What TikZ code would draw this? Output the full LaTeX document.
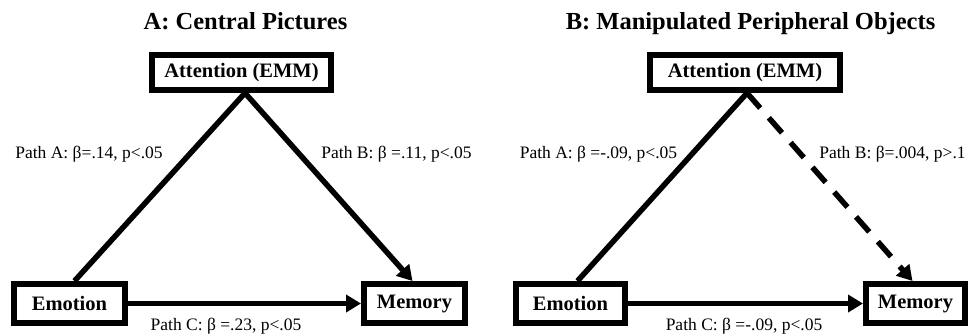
\documentclass[tikz,border=0pt]{standalone}
\usepackage{fontspec}
\setmainfont{Liberation Serif}
\usetikzlibrary{arrows.meta}
\begin{document}
\begin{tikzpicture}[x=1pt,y=-1pt,
  varbox/.style={draw=black,line width=6pt,fill=white,inner sep=0pt,font=\bfseries\fontsize{20.5}{22}\selectfont,anchor=center},
  conn/.style={line width=5.5pt,black},
  arr/.style={conn,-{Triangle[length=15pt,width=17pt]}},
  lab/.style={font=\fontsize{17.5}{19}\selectfont,inner sep=0pt,anchor=base},
  ttl/.style={font=\bfseries\fontsize{24.5}{26}\selectfont,inner sep=0pt,anchor=base}]
\useasboundingbox (0,0) rectangle (969,335);
% Panel A
\node[ttl] (ta) at (245.5,29) {A: Central Pictures};
\node[varbox,minimum width=179pt,minimum height=35pt] (attA) at (241.5,72.5) {Attention (EMM)};
\node[varbox,minimum width=111pt,minimum height=39pt] (emoA) at (69.5,303.5) {Emotion};
\node[varbox,minimum width=101pt,minimum height=39pt] (memA) at (414.5,303.5) {Memory};
\draw[conn] ([xshift=3.5pt]attA.south) -- ([xshift=5pt]emoA.north);
\draw[arr] ([xshift=3.5pt]attA.south) -- ([xshift=-2pt]memA.north);
\draw[arr] (emoA.east) -- (memA.west);
\node[lab] (pa) at (89,158) {Path A: β=.14, p<.05};
\node[lab] (pb) at (396.5,158) {Path B: β =.11, p<.05};
\node[lab] (pc) at (226,330) {Path C: β =.23, p<.05};
% Panel B
\node[ttl] (tb) at (750.5,29) {B: Manipulated Peripheral Objects};
\node[varbox,minimum width=190pt,minimum height=35pt] (attB) at (745,72.5) {Attention (EMM)};
\node[varbox,minimum width=109pt,minimum height=39pt] (emoB) at (570.5,303.5) {Emotion};
\node[varbox,minimum width=99pt,minimum height=39pt] (memB) at (915.5,303.5) {Memory};
\draw[conn] ([xshift=2pt]attB.south) -- ([xshift=7pt]emoB.north);
\draw[arr,dash pattern=on 20pt off 13pt] ([xshift=2pt]attB.south) -- ([xshift=-3pt]memB.north);
\draw[arr] (emoB.east) -- (memB.west);
\node[lab] (pa2) at (598.5,158) {Path A: β =-.09, p<.05};
\node[lab] (pb2) at (892.5,158) {Path B: β=.004, p>.1};
\node[lab] (pc2) at (744,330) {Path C: β =-.09, p<.05};
\end{tikzpicture}
\end{document}
